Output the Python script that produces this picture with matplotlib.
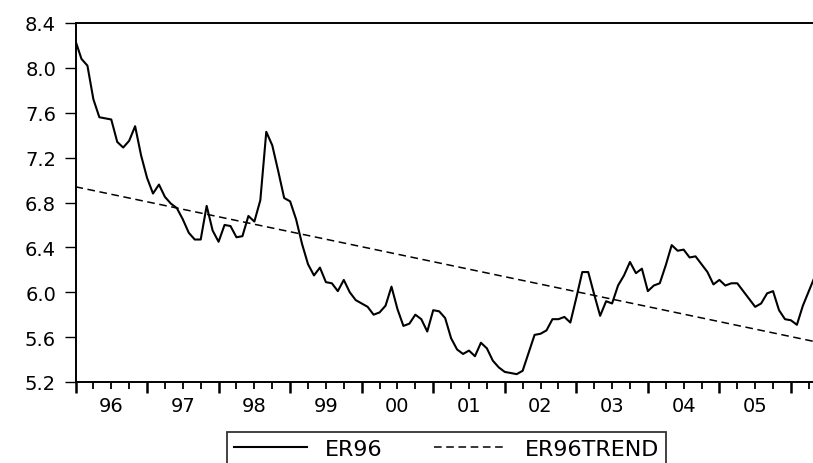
import matplotlib
matplotlib.use('Agg')
import matplotlib.pyplot as plt
import numpy as np

plt.rcParams['font.family'] = ['DejaVu Sans']

# monthly ER96, 1996M01 .. 2006M05
er96 = [
    8.24, 8.08, 8.02, 7.72, 7.56, 7.55, 7.54, 7.34, 7.29, 7.35, 7.48, 7.22,  # 96
    7.02, 6.88, 6.96, 6.85, 6.79, 6.75, 6.65, 6.53, 6.47, 6.47, 6.77, 6.55,  # 97
    6.45, 6.60, 6.59, 6.49, 6.50, 6.68, 6.63, 6.82, 7.43, 7.31, 7.08, 6.84,  # 98
    6.81, 6.65, 6.43, 6.25, 6.15, 6.22, 6.09, 6.08, 6.01, 6.11, 6.00, 5.93,  # 99
    5.90, 5.87, 5.80, 5.82, 5.88, 6.05, 5.85, 5.70, 5.72, 5.80, 5.76, 5.65,  # 00
    5.84, 5.83, 5.77, 5.59, 5.49, 5.45, 5.48, 5.43, 5.55, 5.50, 5.39, 5.33,  # 01
    5.29, 5.28, 5.27, 5.30, 5.46, 5.62, 5.63, 5.66, 5.76, 5.76, 5.78, 5.73,  # 02
    5.95, 6.18, 6.18, 5.98, 5.79, 5.92, 5.90, 6.06, 6.15, 6.27, 6.17, 6.21,  # 03
    6.01, 6.06, 6.08, 6.24, 6.42, 6.37, 6.38, 6.31, 6.32, 6.25, 6.18, 6.07,  # 04
    6.11, 6.06, 6.08, 6.08, 6.01, 5.94, 5.87, 5.90, 5.99, 6.01, 5.84, 5.76,  # 05
    5.75, 5.71, 5.88, 6.01, 6.14,                                            # 06
]
# linear trend: values at first and last month
trend_months = [0, 124]
trend_vals = [6.94, 5.56]

year_labels = ['96', '97', '98', '99', '00', '01', '02', '03', '04', '05']
y_ticks = [5.2, 5.6, 6.0, 6.4, 6.8, 7.2, 7.6, 8.0, 8.4]

months = np.arange(len(er96))

fig = plt.figure(figsize=(8.13, 4.64), dpi=100)
ax = fig.add_axes([75.5 / 813, 81 / 464, 1 - 75.5 / 813, 359 / 464])

l1, = ax.plot(months, er96, color='black', lw=1.5, label='ER96')
l2, = ax.plot(trend_months, trend_vals, color='black', lw=1.1,
              linestyle=(0, (5, 3)), label='ER96TREND')

ax.set_xlim(0, 123.7)
ax.set_ylim(5.2, 8.4)
ax.set_yticks(y_ticks)
ax.set_yticklabels(['%.1f' % v for v in y_ticks])

# year boundary ticks and quarter ticks
ax.set_xticks(np.arange(0, 125, 12))
ax.set_xticks(np.arange(0, 125, 3), minor=True)
ax.tick_params(axis='x', which='major', length=8, width=1.8, labelbottom=False,
               direction='out')
ax.tick_params(axis='x', which='minor', length=5, width=1.3, direction='out')
ax.tick_params(axis='y', length=8, width=1.0, pad=6, labelsize=14)

# year labels centred in each year
sec = ax.secondary_xaxis('bottom')
sec.set_xticks(np.arange(6, 120, 12))
sec.set_xticklabels(year_labels)
sec.tick_params(length=0, pad=10, labelsize=14)
sec.spines['bottom'].set_visible(False)

for s in ['left', 'bottom', 'top']:
    ax.spines[s].set_linewidth(1.4)
ax.spines['right'].set_visible(False)

leg = fig.legend(handles=[l1, l2], loc='upper left',
                 bbox_to_anchor=(227 / 813, 1 - 433 / 464), ncol=2,
                 fontsize=16, frameon=True, fancybox=False, borderpad=0.3,
                 handlelength=3.3, handletextpad=0.8, columnspacing=2.3,
                 borderaxespad=0)
leg.get_frame().set_edgecolor('black')
leg.get_frame().set_linewidth(1.3)

fig.savefig('out.png', dpi=100)
